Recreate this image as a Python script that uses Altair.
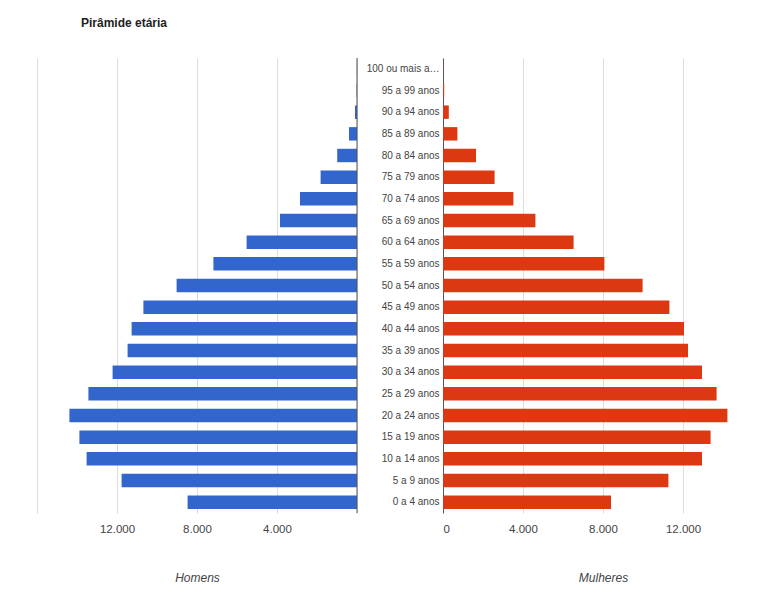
import altair as alt
import pandas as pd

# Age groups, youngest first
ages = [
    "0 a 4 anos", "5 a 9 anos", "10 a 14 anos", "15 a 19 anos", "20 a 24 anos",
    "25 a 29 anos", "30 a 34 anos", "35 a 39 anos", "40 a 44 anos", "45 a 49 anos",
    "50 a 54 anos", "55 a 59 anos", "60 a 64 anos", "65 a 69 anos", "70 a 74 anos",
    "75 a 79 anos", "80 a 84 anos", "85 a 89 anos", "90 a 94 anos", "95 a 99 anos",
    "100 ou mais anos",
]
men = [8470, 11770, 13520, 13880, 14380, 13430, 12220, 11470, 11270, 10680,
       9020, 7180, 5520, 3850, 2850, 1820, 990, 400, 100, 20, 5]
women = [8400, 11270, 12950, 13380, 14220, 13680, 12950, 12250, 12050, 11320,
         9980, 8070, 6530, 4620, 3520, 2580, 1650, 720, 290, 60, 10]

df = pd.DataFrame({"idade": ages, "Homens": men, "Mulheres": women})
order = ages[::-1]  # oldest at the top

FONT = "Liberation Sans"
LABEL_COLOR = "#444444"
GRID_COLOR = "#dddddd"
AXIS_COLOR = "#555555"

fmt = "replace(format(datum.value, ',d'), ',', '.')"

y_scale = alt.Scale(paddingInner=0.38, paddingOuter=0.19)

# Men: bars grow leftwards from the central axis
left_bars = alt.Chart(df).mark_bar(color="#3366CC").encode(
    x=alt.X(
        "Homens:Q",
        scale=alt.Scale(domain=[0, 16000], reverse=True, nice=False),
        axis=alt.Axis(
            values=[0, 4000, 8000, 12000, 16000],
            labelExpr=f"(datum.value == 0 || datum.value == 16000) ? '' : {fmt}",
            title="Homens",
            titleFontStyle="italic",
            titleFontWeight="normal",
            titleFontSize=12,
            titleColor=LABEL_COLOR,
            titleFont=FONT,
            titlePadding=38,
            labelFont=FONT,
            labelFontSize=11.5,
            labelColor=LABEL_COLOR,
            labelPadding=10,
            ticks=False,
            domain=False,
            grid=True,
            gridColor=GRID_COLOR,
        ),
    ),
    y=alt.Y("idade:N", sort=order, axis=None, scale=y_scale),
)
left_axis = alt.Chart(pd.DataFrame({"v": [0]})).mark_rule(
    color=AXIS_COLOR, strokeWidth=1
).encode(x=alt.datum(0))
left = alt.layer(left_bars, left_axis).properties(width=320, height=455)

# Women: bars grow rightwards, age labels sit on the shared axis
right = alt.Chart(df).mark_bar(color="#DC3912").encode(
    x=alt.X(
        "Mulheres:Q",
        scale=alt.Scale(domain=[0, 15000], nice=False),
        axis=alt.Axis(
            values=[0, 4000, 8000, 12000],
            labelExpr=fmt,
            title="Mulheres",
            titleX=160,
            titleFontStyle="italic",
            titleFontWeight="normal",
            titleFontSize=12,
            titleColor=LABEL_COLOR,
            titleFont=FONT,
            titlePadding=38,
            labelFont=FONT,
            labelFontSize=11.5,
            labelColor=LABEL_COLOR,
            labelPadding=10,
            ticks=False,
            domain=False,
            grid=True,
            gridColor=GRID_COLOR,
        ),
    ),
    y=alt.Y(
        "idade:N",
        sort=order,
        scale=y_scale,
        axis=alt.Axis(
            title=None,
            ticks=False,
            domain=True,
            domainColor=AXIS_COLOR,
            labelFont=FONT,
            labelFontSize=10,
            labelColor=LABEL_COLOR,
            labelPadding=4,
            labelLimit=75,
            minExtent=85,
            maxExtent=85,
            grid=False,
        ),
    ),
).properties(width=300, height=455)

chart = alt.hconcat(left, right, spacing=0).properties(
    title=alt.TitleParams(
        "Pirâmide etária",
        anchor="start",
        dx=44,
        fontSize=12,
        font=FONT,
        fontWeight="bold",
        color="#222222",
        offset=28,
    ),
    padding={"left": 37, "top": 16, "right": 5, "bottom": 5},
).configure_view(stroke=None)

chart.save("out.html", embed_options={"renderer": "svg", "actions": False})
